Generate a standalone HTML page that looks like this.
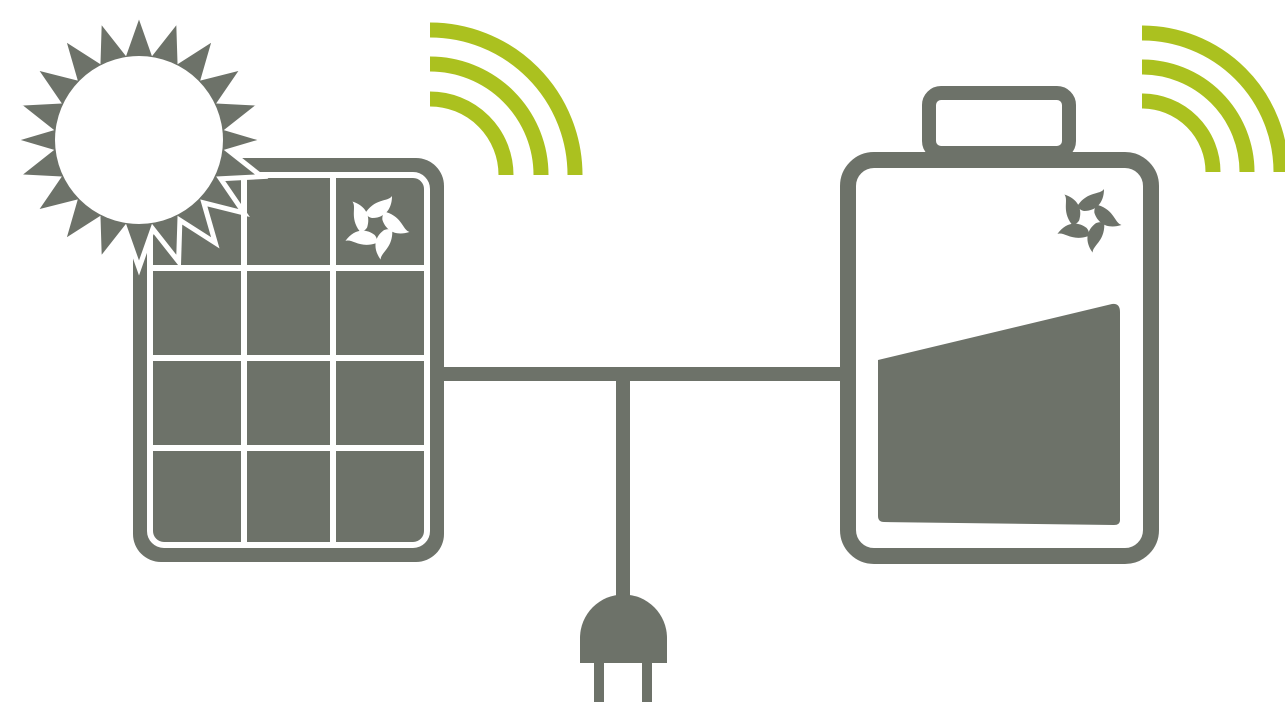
<!DOCTYPE html>
<html><head><style>html,body{margin:0;padding:0;background:#fff}svg{display:block}</style></head><body>
<svg width="1285" height="705" viewBox="0 0 1285 705" xmlns="http://www.w3.org/2000/svg">
<defs>
<g id="leaf"><path d="M-10,-14 C0,-28 12,-24 16,-30 C16,-16 8,-8 -4,-8 C-8,-9 -10,-11 -10,-14 Z"/></g>
<g id="emb"><use href="#leaf"/><use href="#leaf" transform="rotate(72)"/><use href="#leaf" transform="rotate(144)"/><use href="#leaf" transform="rotate(216)"/><use href="#leaf" transform="rotate(288)"/></g>
</defs>
<g fill="none" stroke="#abc11f" stroke-width="15">
<path d="M430,30 A145,145 0 0 1 575,175"/><path d="M430,64 A111,111 0 0 1 541,175"/><path d="M430,99 A76,76 0 0 1 506,175"/>
<path d="M1142,33 A139,139 0 0 1 1281,172"/><path d="M1142,67 A105,105 0 0 1 1247,172"/><path d="M1142,101 A71,71 0 0 1 1213,172"/>
</g>
<g stroke="#6d7269" stroke-width="14" fill="none">
<line x1="444" y1="374" x2="842" y2="374"/><line x1="623" y1="374" x2="623" y2="600"/>
<rect x="929" y="93" width="140" height="60" rx="12"/>
<rect x="848" y="160" width="303" height="396" rx="26" fill="#fff" stroke-width="16"/>
</g>
<path d="M580,663 L580,638 A43,43 0 0 1 667,638 L667,663 Z" fill="#6d7269"/>
<rect x="594" y="660" width="10" height="42" fill="#6d7269"/><rect x="642" y="660" width="10" height="42" fill="#6d7269"/>
<path d="M878,360 L1112,304 Q1120,303 1120,312 L1120,520 Q1120,525 1114,525 L884,522 Q878,522 878,516 Z" fill="#6d7269"/>
<rect x="133" y="158" width="311" height="404" rx="28" fill="#6d7269"/>
<rect x="150" y="175" width="277" height="370" rx="14" fill="none" stroke="#fff" stroke-width="6"/>
<g stroke="#fff" stroke-width="6"><line x1="244" y1="178" x2="244" y2="542"/><line x1="333" y1="178" x2="333" y2="542"/><line x1="153" y1="268" x2="424" y2="268"/><line x1="153" y1="358" x2="424" y2="358"/><line x1="153" y1="448" x2="424" y2="448"/></g>
<g fill="#fff" transform="translate(376,226)"><use href="#emb"/></g>
<g fill="#6d7269" transform="translate(1088,219)"><use href="#emb"/></g>
<polygon fill="#6d7269" stroke="#fff" stroke-width="5" stroke-linejoin="miter" points="
139.0,12.0 152.8,51.1 178.6,18.3 179.9,59.8 215.3,37.2 203.8,77.1 244.1,67.0 220.7,101.2 261.7,103.4 229.1,129.1 266.0,140.0 229.1,150.9 261.7,176.6 220.7,178.8 244.1,213.0 203.8,202.9 215.3,242.8 179.9,220.2 178.6,261.7 152.8,228.9 139.0,268.0 125.2,228.9 99.4,261.7 98.1,220.2 62.7,242.8 74.2,202.9 33.9,213.0 57.3,178.8 16.3,176.6 48.9,150.9 12.0,140.0 48.9,129.1 16.3,103.4 57.3,101.2 33.9,67.0 74.2,77.1 62.7,37.2 98.1,59.8 99.4,18.3 125.2,51.1"/>
<circle cx="139" cy="140" r="84" fill="#fff"/>
</svg>
</body></html>
